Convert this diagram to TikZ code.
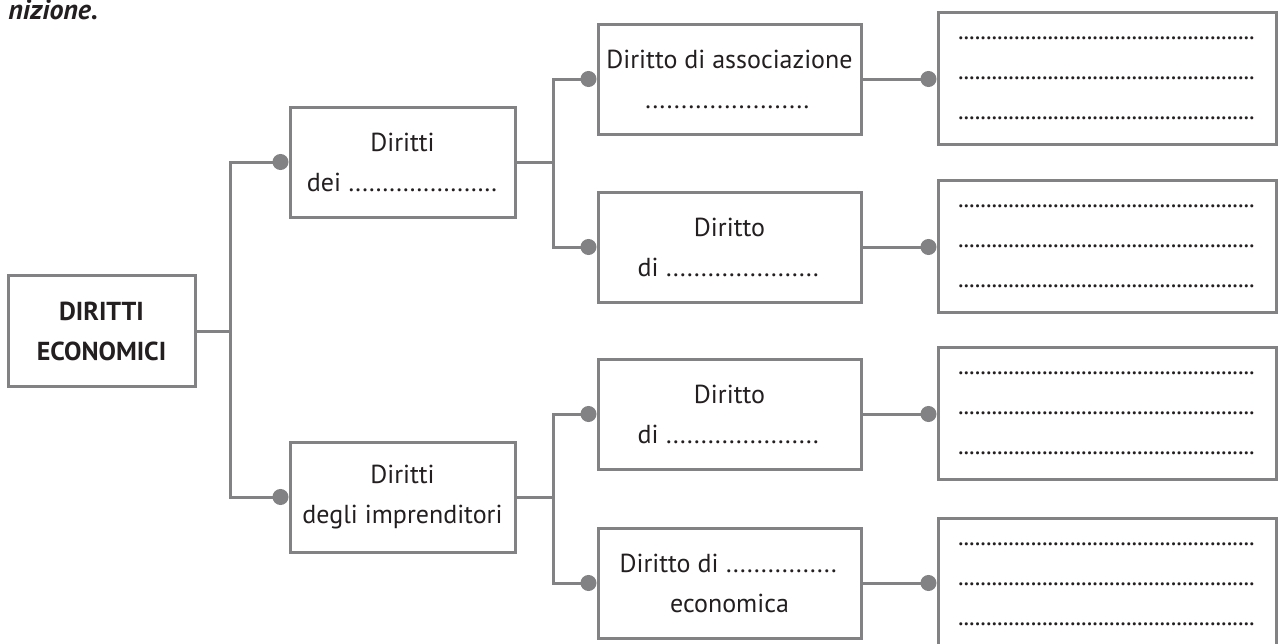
\documentclass[tikz,border=0pt]{standalone}
\usepackage{fontspec}
\setmainfont{PT Sans}
\usetikzlibrary{arrows.meta}
\definecolor{boxgray}{RGB}{130,130,133}
\definecolor{inkdark}{RGB}{35,31,32}
% dotted blanks to be filled in
\newcommand{\puntini}[2]{\makebox[#1]{\leaders\hbox to #2{\hss.\hss}\hfill}}
\newcommand{\riga}{\puntini{149pt}{2.8pt}}
\tikzset{
    box/.style={
        draw=boxgray,
        line width=1.5pt,
        fill=white,
        text=inkdark,
        align=center,
        inner sep=2pt,
        font=\fontsize{13}{20}\selectfont
    },
    rootbox/.style={box, minimum width=93.5pt, minimum height=55.5pt, font=\fontsize{13}{20}\selectfont\bfseries},
    leftbox/.style={box, minimum width=112.5pt, minimum height=55pt},
    midbox/.style={box, minimum width=131.5pt, minimum height=55pt},
    rightbox/.style={box, minimum width=169pt, minimum height=66pt},
    link/.style={draw=boxgray, line width=1.5pt},
    linkdot/.style={link, -{Circle[length=8pt, width=8pt]}}
}
\begin{document}
\begin{tikzpicture}[x=0.5pt, y=-0.5pt]
            \useasboundingbox (0,0) rectangle (1279,643);
            % Help lines :
            % \draw [help lines] (0,0) grid[step=50] (1279,643);

            % Caption remnant
            \node (caption) [
                anchor=base west,
                text=inkdark,
                inner sep=0pt,
                font=\fontsize{14}{16}\selectfont\bfseries\itshape
            ] at (8,19) {nizione.};

            % Boxes
            \node (root) [rootbox] at (101.5,331) {DIRITTI\\ECONOMICI};
            \node (dei) [leftbox] at (402.5,162) {Diritti\\dei \puntini{75pt}{3.4pt}};
            \node (impr) [leftbox] at (402.5,497) {Diritti\\degli imprenditori};
            \node (assoc) [midbox] at (729.5,79) {Diritto di associazione\\\puntini{85pt}{3.6pt}};
            \node (dirB) [midbox] at (729.5,247) {Diritto\\di \puntini{78pt}{3.5pt}};
            \node (dirC) [midbox] at (729.5,414) {Diritto\\di \puntini{78pt}{3.5pt}};
            \node (dirD) [midbox] at (729.5,583) {Diritto di \puntini{57pt}{3.5pt}\\economica};
            \node (ansA) [rightbox] at (1107,78) {\riga\\\riga\\\riga};
            \node (ansB) [rightbox] at (1107,246) {\riga\\\riga\\\riga};
            \node (ansC) [rightbox] at (1107,413) {\riga\\\riga\\\riga};
            \node (ansD) [rightbox] at (1107,584) {\riga\\\riga\\\riga};

            % Junctions
            \coordinate (jroot) at (230,331);
            \coordinate (jdei) at (553,162);
            \coordinate (jimpr) at (553,497);

            % Edges
            \draw [link] (root) -- (jroot);
            \draw [linkdot] (jroot) |- (dei.west);
            \draw [linkdot] (jroot) |- (impr.west);

            \draw [link] (dei) -- (jdei);
            \draw [linkdot] (jdei) |- (assoc.west);
            \draw [linkdot] (jdei) |- (dirB.west);

            \draw [link] (impr) -- (jimpr);
            \draw [linkdot] (jimpr) |- (dirC.west);
            \draw [linkdot] (jimpr) |- (dirD.west);

            \draw [linkdot] (assoc.east) -- (assoc.east -| ansA.west);
            \draw [linkdot] (dirB.east) -- (dirB.east -| ansB.west);
            \draw [linkdot] (dirC.east) -- (dirC.east -| ansC.west);
            \draw [linkdot] (dirD.east) -- (dirD.east -| ansD.west);
        \end{tikzpicture}
\end{document}
